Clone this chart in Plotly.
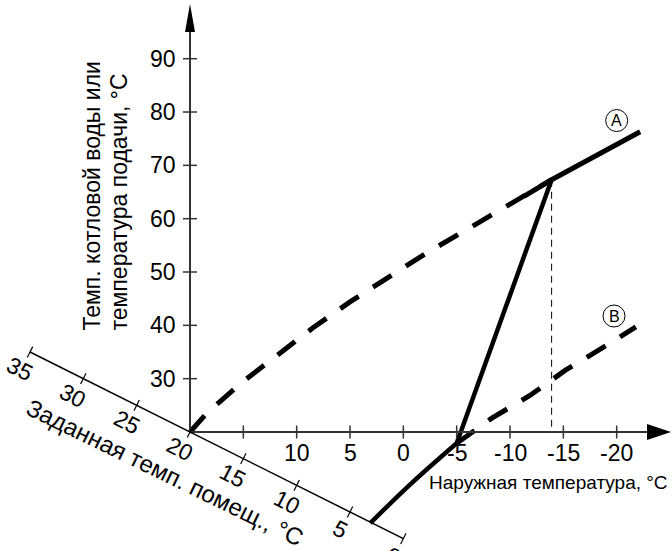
import plotly.graph_objects as go

# axes values
boiler_ticks = [30, 40, 50, 60, 70, 80, 90]
outdoor_ticks = [15, 10, 5, 0, -5, -10, -15, -20]
outdoor_labels = ["", "10", "5", "0", "-5", "-10", "-15", "-20"]
room_ticks = [35, 30, 25, 20, 15, 10, 5, 0]

# curve A (dashed part from the origin to the knee)
a_dash_t = [20, 18.4, 15.2, 11.8, 8.5, 5.0, 1.4, -2.2, -5.9, -9.5, -13.9]
a_dash_v = [20, 23.6, 29.2, 34.4, 39.5, 44.4, 48.9, 53.6, 57.9, 62.2, 67.3]
# curve A solid part
a_solid_t = [-11.3, -13.9, -22.2]
a_solid_v = [64.2, 67.3, 76.3]
# steep solid line to the knee
steep_t = [-5.0, -13.9]
steep_v = [17.9, 67.3]
# bottom solid curve from the room temp axis
low_t = [3.1, -0.6, -5.0]
low_v = [2.9, 10.1, 17.9]
# curve B (dashed)
b_t = [-5.0, -8.3, -11.9, -15.2, -19.1, -21.8]
b_v = [17.9, 22.6, 26.9, 31.6, 36.3, 39.7]

knee_t, knee_v = -13.9, 67.3
origin = 20

# pixel scale: 10.667 px per degC horizontally, 5.333 px per degC vertically
PX_X = 10.667
PX_Y = 5.333
FONT = "Arial, Liberation Sans, sans-serif"
AXC = "#333333"
W, H = 672, 551
OX, OY = 190, 432        # origin position inside the figure

fig = go.Figure()

# heavy curves
fig.add_trace(go.Scatter(x=a_dash_t, y=a_dash_v, mode="lines",
                         line=dict(color="black", width=5, dash="22px,17px")))
fig.add_trace(go.Scatter(x=a_solid_t, y=a_solid_v, mode="lines",
                         line=dict(color="black", width=5)))
fig.add_trace(go.Scatter(x=steep_t, y=steep_v, mode="lines",
                         line=dict(color="black", width=4.5)))
fig.add_trace(go.Scatter(x=low_t, y=low_v, mode="lines", line_shape="spline",
                         line=dict(color="black", width=4.5)))
fig.add_trace(go.Scatter(x=b_t, y=b_v, mode="lines",
                         line=dict(color="black", width=5, dash="22px,17px")))

# thin dashed drop line from the knee
fig.add_trace(go.Scatter(x=[knee_t, knee_t], y=[knee_v, origin], mode="lines",
                         line=dict(color="black", width=1, dash="7px,5px")))

shapes = []
# y axis and x axis
shapes.append(dict(type="line", x0=origin, y0=origin, x1=origin, y1=95,
                   line=dict(color=AXC, width=2)))
shapes.append(dict(type="line", x0=origin, y0=origin, x1=-23.2, y1=origin,
                   line=dict(color=AXC, width=2)))
# arrow heads
shapes.append(dict(type="path", fillcolor="black", line=dict(width=0),
                   path=f"M {origin - 5 / PX_X},{95.0} L {origin + 5 / PX_X},{95.0} "
                        f"L {origin},{95.0 + 28 / PX_Y} Z"))
tip_x = origin - 481 / PX_X
shapes.append(dict(type="path", fillcolor="black", line=dict(width=0),
                   path=f"M {tip_x + 24 / PX_X},{origin + 8 / PX_Y} "
                        f"L {tip_x + 24 / PX_X},{origin - 8 / PX_Y} L {tip_x},{origin} Z"))

# y ticks
for v in boiler_ticks:
    shapes.append(dict(type="line", x0=origin + 7 / PX_X, x1=origin - 7 / PX_X, y0=v, y1=v,
                       line=dict(color=AXC, width=1.5)))
# x ticks
for t in outdoor_ticks:
    shapes.append(dict(type="line", x0=t, x1=t, y0=origin - 6.5 / PX_Y, y1=origin + 6.5 / PX_Y,
                       line=dict(color=AXC, width=1.5)))

# oblique room temperature axis (value r sits at x=r, y=r)
shapes.append(dict(type="line", x0=max(room_ticks), y0=max(room_ticks),
                   x1=min(room_ticks), y1=min(room_ticks), line=dict(color="black", width=1.5)))
for r in room_ticks:
    dx, dy = 2.7 / PX_X, 5.4 / PX_Y
    shapes.append(dict(type="line", x0=r - dx, y0=r + dy, x1=r + dx, y1=r - dy,
                       line=dict(color="black", width=1.2)))

# circle markers A and B
markers = [("A", -20.0, 78.4), ("B", -19.75, 41.75)]
for _, ct, cv in markers:
    shapes.append(dict(type="circle", x0=ct + 11 / PX_X, x1=ct - 11 / PX_X,
                       y0=cv - 11 / PX_Y, y1=cv + 11 / PX_Y,
                       line=dict(color="black", width=1)))

annotations = []
for v in boiler_ticks:
    annotations.append(dict(x=origin, y=v, text=str(v), showarrow=False, xanchor="right",
                            xshift=-12, font=dict(size=23, color="black", family=FONT)))
for t, lab in zip(outdoor_ticks, outdoor_labels):
    if lab:
        annotations.append(dict(x=t, y=origin, text=lab, showarrow=False, yshift=-21,
                                font=dict(size=23, color="black", family=FONT)))
for r in room_ticks:
    annotations.append(dict(x=r, y=r, text=str(r), showarrow=False, textangle=27,
                            xshift=-10, yshift=-17,
                            font=dict(size=23, color="black", family=FONT)))

for letter, ct, cv in markers:
    annotations.append(dict(x=ct, y=cv, text=letter, showarrow=False,
                            font=dict(size=16, color="black", family=FONT)))

annotations.append(dict(x=-25.0, y=10.6, text="Наружная температура, °C", showarrow=False,
                        xanchor="right", font=dict(size=19, color="black", family=FONT)))
# y title, two lines set tight
annotations.append(dict(x=20 + (OX - 91) / PX_X, y=20 + (OY - 333) / PX_Y,
                        text="Темп. котловой воды или", showarrow=False, textangle=-90,
                        yanchor="bottom", font=dict(size=23, color="black", family=FONT)))
annotations.append(dict(x=20 + (OX - 118) / PX_X, y=20 + (OY - 333) / PX_Y,
                        text="температура подачи, °C", showarrow=False, textangle=-90,
                        yanchor="bottom", font=dict(size=23, color="black", family=FONT)))
annotations.append(dict(x=22.34, y=12.5, text="Заданная темп. помещ., °C", showarrow=False,
                        textangle=26, font=dict(size=24, color="black", family=FONT)))

fig.update_layout(
    width=W, height=H,
    margin=dict(l=0, r=0, t=0, b=0),
    paper_bgcolor="white", plot_bgcolor="white",
    showlegend=False,
    hovermode=False,
    xaxis=dict(range=[origin + OX / PX_X, origin - (W - OX) / PX_X], visible=False, fixedrange=True),
    yaxis=dict(range=[origin - (H - OY) / PX_Y, origin + OY / PX_Y], visible=False, fixedrange=True),
    shapes=shapes,
    annotations=annotations,
)

# drop the page's default body margin so the figure fills the window
fig.write_html("out.html", config={"displayModeBar": False},
               post_script="document.body.style.margin='0';")
